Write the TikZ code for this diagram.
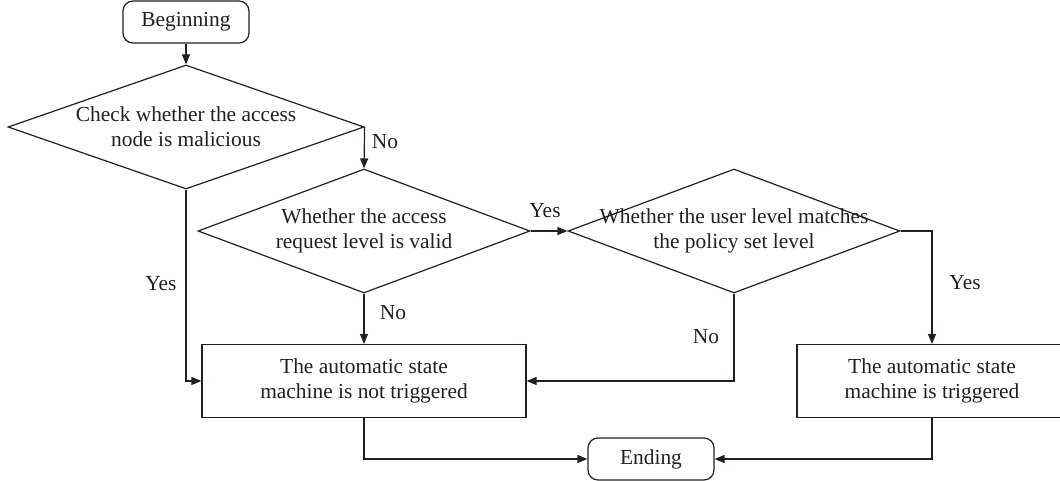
\documentclass[tikz,border=0pt]{standalone}
\usepackage{fontspec}
\setmainfont{Liberation Serif}
\usetikzlibrary{shapes.geometric,arrows.meta}
\definecolor{ink}{RGB}{35,31,32}

\begin{document}
\begin{tikzpicture}[x=0.5pt,y=-0.5pt,line width=0.6pt,color=ink,
  every node/.style={font=\fontsize{10.7}{12.5}\selectfont},
  term/.style={draw,rounded corners=5pt,minimum width=63pt,minimum height=21pt,inner sep=0pt},
  dec/.style={draw,diamond,inner sep=0pt,minimum height=62pt},
  act/.style={draw,align=center,minimum height=36.5pt,inner sep=0pt},
  txt/.style={align=center,inner sep=0pt},
  lbl/.style={inner sep=0pt},
  arr/.style={-{Triangle[length=5pt,width=4pt]}}]
  \useasboundingbox (0,0) rectangle (1060,481);
  \node[term] (begin) at (186,22) {Beginning};
  \node[dec,minimum width=178pt] (d1) at (186,127) {}; \node[txt] (t1) at (d1) {Check whether the access\\node is malicious};
  \node[dec,minimum width=166pt] (d2) at (364,231) {}; \node[txt] (t2) at (d2) {Whether the access\\request level is valid};
  \node[dec,minimum width=166pt] (d3) at (734,231) {}; \node[txt] (t3) at (d3) {Whether the user level matches\\the policy set level};
  \node[act,minimum width=162pt] (box2) at (364,381) {The automatic state\\machine is not triggered};
  \node[act,minimum width=135pt] (box3) at (932,381) {The automatic state\\machine is triggered};
  \node[term] (finish) at (651,459) {Ending};
  \draw[arr] (begin) -- (d1.north); \draw[arr] (d1.east) -- (d2.north); \draw[arr] (d2.east) -- (d3.west);
  \draw[arr] (d3.east) -| (box3.north); \draw[arr] (d1.south) |- (box2.west); \draw[arr] (d2.south) -- (box2.north);
  \draw[arr] (d3.south) |- (box2.east); \draw[arr] (box2.south) |- (finish.west); \draw[arr] (box3.south) |- (finish.east);
  \node[lbl] (yes1) at (161,284) {Yes}; \node[lbl] (no1) at (385,142) {No}; \node[lbl] (yes2) at (545,211) {Yes};
  \node[lbl] (no2) at (393,313) {No}; \node[lbl] (no3) at (706,337) {No}; \node[lbl] (yes3) at (965,283) {Yes};
\end{tikzpicture}
\end{document}
